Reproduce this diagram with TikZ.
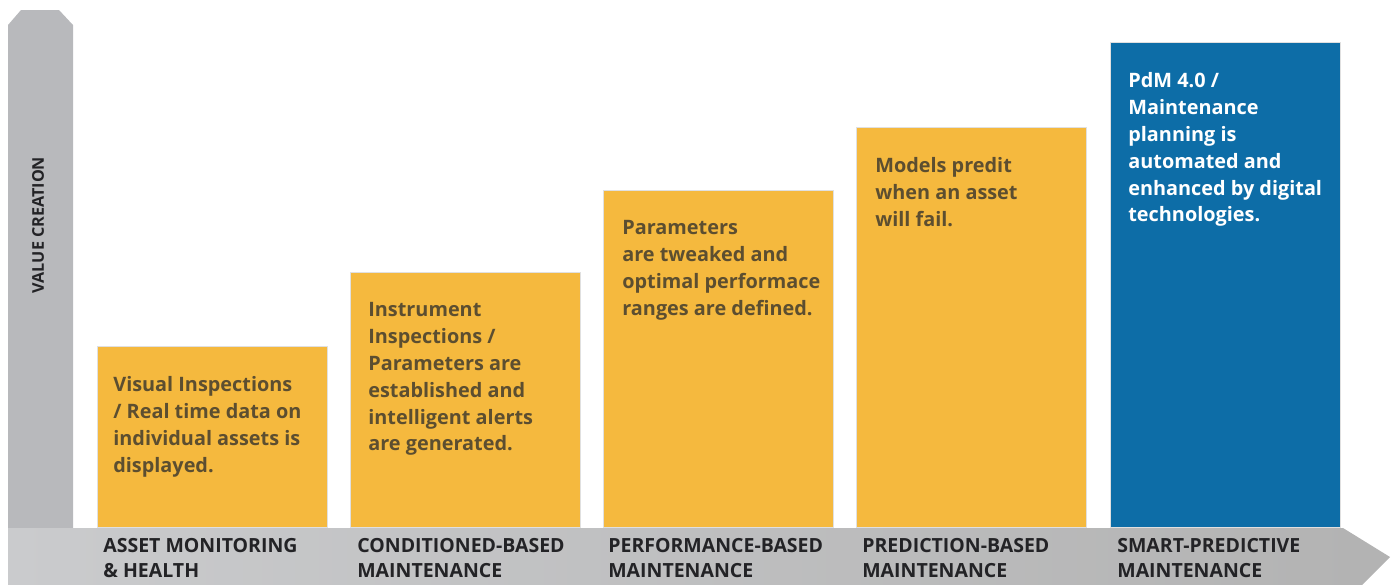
\documentclass[tikz,border=0pt]{standalone}
\usepackage{fontspec}
\setmainfont{Open Sans}
\usetikzlibrary{calc, positioning}

\definecolor{amber}{RGB}{245,185,62}
\definecolor{pdmblue}{RGB}{13,109,167}
\definecolor{axisgrey}{RGB}{184,185,188}
\definecolor{bargrey}{RGB}{202,203,205}
\definecolor{inktext}{RGB}{92,78,48}
\definecolor{labelink}{RGB}{35,35,38}

\tikzset{
	stage/.style = {draw=black!12, line width=0.6pt, minimum width=4.6cm, inner sep=0pt, anchor=south west},
	desc/.style = {anchor=north west, inner sep=0pt, align=left, font=\fontsize{11.3}{15.3}\selectfont\bfseries, text=inktext},
	tag/.style = {anchor=north west, inner sep=0pt, align=left, font=\fontsize{11.1}{14.2}\selectfont\bfseries, text=labelink},
}

\begin{document}
\begin{tikzpicture}[x=0.02cm, y=-0.02cm]
			\useasboundingbox (0,0) rectangle (1397,585);
			
			% axes
			\fill[axisgrey] (8,585) -- (8,25) -- (21,10) -- (59,10) -- (73,25) -- (73,585) -- cycle;
			\shade[left color=bargrey, right color=black!30] (73,528) -- (1343,528) -- (1390,557) -- (1362,585) -- (8,585) -- (8,528) -- cycle;
			\node[rotate=90, font=\fontsize{9.2}{9}\selectfont\bfseries, text=labelink] (value) at (38,225) {VALUE CREATION};
			
			% stages
			\node[stage, fill=amber, minimum height=3.62cm] (amon) at (97,528) {};
			\node[stage, fill=amber, minimum height=5.10cm] (cbm) at (350,528) {};
			\node[stage, fill=amber, minimum height=6.74cm] (pbm) at (603,528) {};
			\node[stage, fill=amber, minimum height=8.00cm] (pred) at (856,528) {};
			\node[stage, fill=pdmblue, minimum height=9.70cm] (spm) at (1110,528) {};
			
			\node[desc] (amon-t) at ([shift={(16,30)}]amon.north west) {Visual Inspections\\/ Real time data on\\individual assets is\\displayed.};
			\node[desc] (cbm-t) at ([shift={(18,30)}]cbm.north west) {Instrument\\Inspections /\\Parameters are\\established and\\intelligent alerts\\are generated.};
			\node[desc] (pbm-t) at ([shift={(19,30)}]pbm.north west) {Parameters\\are tweaked and\\optimal performace\\ranges are defined.};
			\node[desc] (pred-t) at ([shift={(19,30)}]pred.north west) {Models predit\\when an asset\\will fail.};
			\node[desc, text=white] (spm-t) at ([shift={(18,30)}]spm.north west) {PdM 4.0 /\\Maintenance\\planning is\\automated and\\enhanced by digital\\technologies.};
			
			% labels on the bar
			\begin{scope}[tag]
				\node (amon-l) at ([shift={(6,10)}]amon.south west) {ASSET MONITORING\\\& HEALTH};
				\node (cbm-l) at ([shift={(7,10)}]cbm.south west) {CONDITIONED-BASED\\MAINTENANCE};
				\node (pbm-l) at ([shift={(5,10)}]pbm.south west) {PERFORMANCE-BASED\\MAINTENANCE};
				\node (pred-l) at ([shift={(6,10)}]pred.south west) {PREDICTION-BASED\\MAINTENANCE};
				\node (spm-l) at ([shift={(7,10)}]spm.south west) {SMART-PREDICTIVE\\MAINTENANCE};
			\end{scope}
		\end{tikzpicture}
\end{document}
